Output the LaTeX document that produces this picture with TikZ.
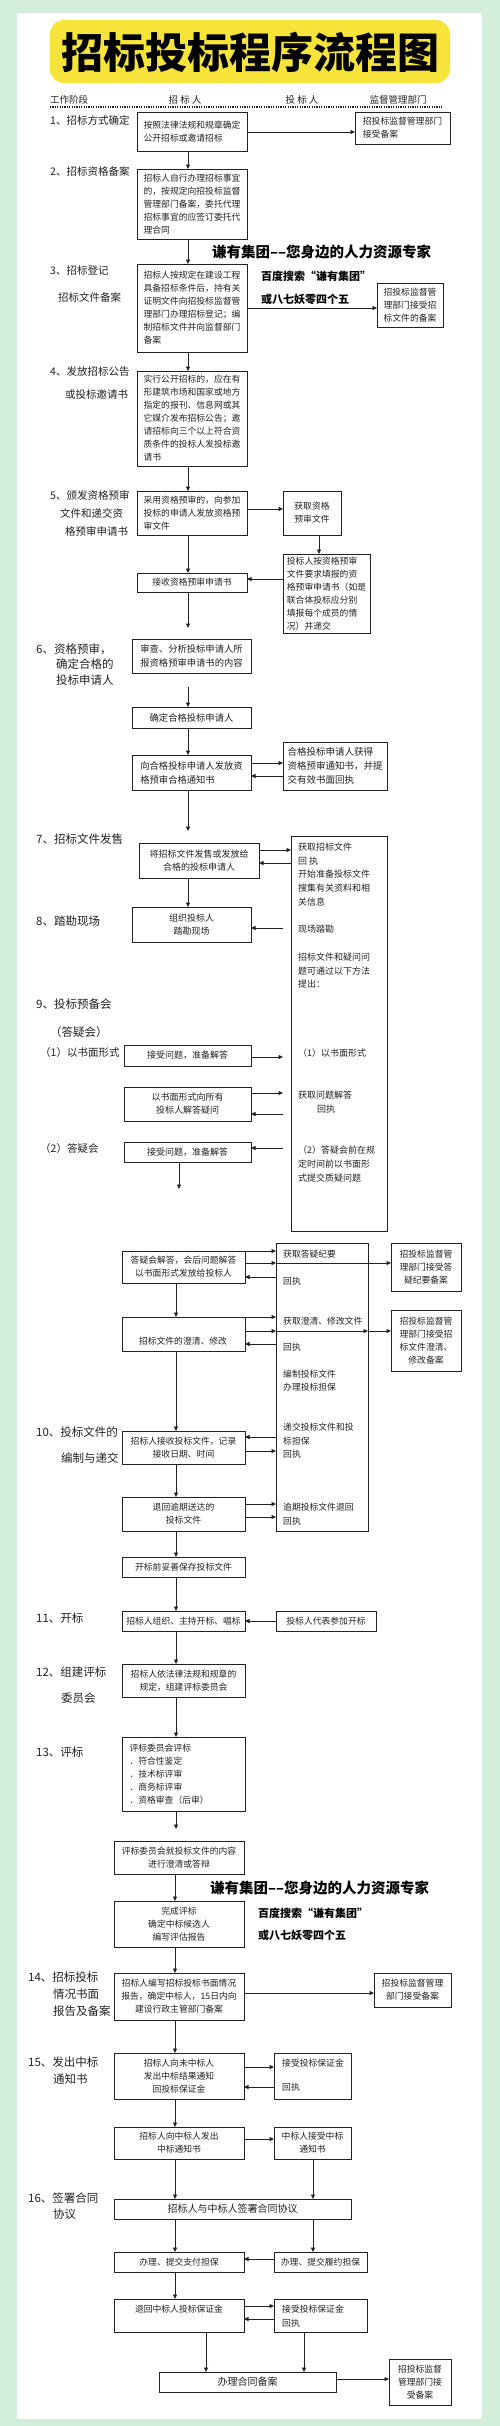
\documentclass[tikz,border=0pt]{standalone}
\usepackage{fontspec}
\setmainfont{Noto Sans CJK SC}
\usetikzlibrary{arrows.meta}
\definecolor{bggreen}{HTML}{D3EDDB}
\definecolor{ttlyellow}{HTML}{F7E43A}
\definecolor{ink}{HTML}{222222}
\newcommand{\bx}[7]{%
  \pgfmathsetmacro\bxw{#4-#2}\pgfmathsetmacro\bxh{#5-#3}%
  \node[box,anchor=north west,minimum width=\bxw pt,minimum height=\bxh pt,#6] (#1) at (#2,#3) {#7};}
\begin{document}
\begin{tikzpicture}[x=1pt,y=-1pt,
  box/.style={draw=ink,line width=0.8pt,inner sep=3pt,outer sep=0pt,text=ink,
    font=\fontsize{8.8}{13}\selectfont,align=center},
  tx/.style={inner sep=0pt,anchor=west,text=ink,font=\fontsize{8.8}{13}\selectfont},
  btx/.style={inner sep=0pt,anchor=west,text=ink,font=\fontsize{9}{13}\selectfont},
  stg/.style={inner sep=0pt,anchor=west,text=ink,font=\fontsize{10.5}{14}\selectfont},
  stgb/.style={inner sep=0pt,anchor=west,text=ink,font=\fontsize{11.5}{14}\selectfont},
  hdr/.style={inner sep=0pt,text=ink,font=\fontsize{9.5}{12}\selectfont},
  wm/.style={inner sep=0pt,anchor=west,text=black,font=\fontsize{14.5}{16}\selectfont\bfseries},
  wms/.style={inner sep=0pt,anchor=west,text=black,font=\fontsize{11}{13}\selectfont\bfseries},
  arr/.style={draw=ink,line width=0.8pt,-{Triangle[length=4.5pt,width=4pt]}},
  big/.style={font=\fontsize{10}{13}\selectfont}]
\useasboundingbox (0,0) rectangle (500,2426);
\fill[bggreen] (0,0) rectangle (500,2426);
\fill[white] (17,13) rectangle (482,2419);
\fill[ttlyellow,rounded corners=14pt] (50,20) rectangle (450,83);
\node[inner sep=0pt,font=\fontsize{42}{42}\selectfont\bfseries] (title) at (250,52) {招标投标程序流程图};
% header
\node[hdr,anchor=west] (h1) at (50,100) {工作阶段};
\node[hdr] (h2) at (185,100) {招 标 人};
\node[hdr] (h3) at (302,100) {投 标 人};
\node[hdr] (h4) at (398,100) {监督管理部门};
\draw[ink,line width=1.2pt,dash pattern=on 1.2pt off 1.2pt] (50,107) -- (443,107);
% stage labels
\node[stg] (L1) at (50,120) {1、招标方式确定};
\node[stg] (L2) at (50,171) {2、招标资格备案};
\node[stg] (L3a) at (50,271) {3、招标登记};
\node[stg] (L3b) at (58,297) {招标文件备案};
\node[stg] (L4a) at (50,372) {4、发放招标公告};
\node[stg] (L4b) at (65,395) {或投标邀请书};
\node[stg] (L5a) at (50,495) {5、颁发资格预审};
\node[stg] (L5b) at (60,513) {文件和递交资};
\node[stg] (L5c) at (65,531) {格预审申请书};
\node[stgb] (L6a) at (36,649) {6、资格预审，};
\node[stgb] (L6b) at (56,664) {确定合格的};
\node[stgb] (L6c) at (56,680) {投标申请人};
\node[stgb] (L7) at (36,839) {7、招标文件发售};
\node[stgb] (L8) at (36,921) {8、踏勘现场};
\node[stgb] (L9a) at (36,1004) {9、投标预备会};
\node[stgb] (L9b) at (50,1032) {（答疑会）};
\node[stg] (L9c) at (40,1052) {（1）以书面形式};
\node[stg] (L9d) at (40,1148) {（2）答疑会};
\node[stgb] (L10a) at (36,1432) {10、投标文件的};
\node[stgb] (L10b) at (61,1458) {编制与递交};
\node[stgb] (L11) at (36,1618) {11、开标};
\node[stgb] (L12a) at (36,1672) {12、组建评标};
\node[stgb] (L12b) at (61,1698) {委员会};
\node[stgb] (L13) at (36,1752) {13、评标};
\node[stgb] (L14a) at (28,1977) {14、招标投标};
\node[stgb] (L14b) at (53,1994) {情况书面};
\node[stgb] (L14c) at (53,2011) {报告及备案};
\node[stgb] (L15a) at (28,2062) {15、发出中标};
\node[stgb] (L15b) at (53,2079) {通知书};
\node[stgb] (L16a) at (28,2198) {16、签署合同};
\node[stgb] (L16b) at (53,2214) {协议};
% watermarks
\node[wm] (W1a) at (212,252) {谦有集团––您身边的人力资源专家};
\node[wms] (W1b) at (261,276) {百度搜索“谦有集团”};
\node[wms] (W1c) at (261,299) {或八七妖零四个五};
\node[wm] (W2a) at (210,1888) {谦有集团––您身边的人力资源专家};
\node[wms] (W2b) at (258,1913) {百度搜索“谦有集团”};
\node[wms] (W2c) at (258,1935) {或八七妖零四个五};
% boxes
\bx{A1}{137}{112}{247}{151}{align=left}{按照法律法规和规章确定\\公开招标或邀请招标}
\bx{S1}{355}{112}{450}{144}{align=left}{招投标监督管理部门\\接受备案}
\bx{A2}{137}{169}{247}{239}{align=left}{招标人自行办理招标事宜\\的，按规定向招投标监督\\管理部门备案，委托代理\\招标事宜的应签订委托代\\理合同}
\bx{A3}{137}{264}{247}{352}{align=left}{招标人按规定在建设工程\\具备招标条件后，持有关\\证明文件向招投标监督管\\理部门办理招标登记；编\\制招标文件并向监督部门\\备案}
\bx{S3}{377}{283}{443}{327}{align=left}{招投标监督管\\理部门接受招\\标文件的备案}
\bx{A4}{137}{371}{247}{466}{align=left}{实行公开招标的，应在有\\形建筑市场和国家或地方\\指定的报刊、信息网或其\\它媒介发布招标公告；邀\\请招标向三个以上符合资\\质条件的投标人发投标邀\\请书}
\bx{A5}{137}{491}{247}{535}{align=left}{采用资格预审的，向参加\\投标的申请人发放资格预\\审文件}
\bx{B5}{283}{491}{341}{535}{}{获取资格\\预审文件}
\bx{B5b}{283}{554}{370}{617}{align=left}{投标人按资格预审\\文件要求填报的资\\格预审申请书（如是\\联合体投标应分别\\填报每个成员的情\\况）并递交}
\bx{A5b}{137}{573}{247}{592}{}{接收资格预审申请书}
\bx{A6}{132}{639}{251}{673}{align=left,font=\fontsize{9.3}{14}\selectfont}{审查、分析投标申请人所\\报资格预审申请书的内容}
\bx{A6b}{132}{707}{251}{728}{font=\fontsize{9.3}{14}\selectfont}{确定合格投标申请人}
\bx{A6c}{132}{755}{251}{790}{align=left,font=\fontsize{9.3}{14}\selectfont}{向合格投标申请人发放资\\格预审合格通知书}
\bx{B6c}{283}{742}{387}{790}{align=left,font=\fontsize{9.5}{14}\selectfont}{合格投标申请人获得\\资格预审通知书，并提\\交有效书面回执}
\bx{A7}{139}{843}{259}{878}{font=\fontsize{9}{13}\selectfont}{将招标文件发售或发放给\\合格的投标申请人}
\bx{B7}{291}{836}{387}{1231}{}{}
\bx{A8}{132}{907}{251}{942}{font=\fontsize{9}{13}\selectfont}{组织投标人\\踏勘现场}
\bx{A9a}{124}{1045}{251}{1066}{font=\fontsize{9}{13}\selectfont}{接受问题，准备解答}
\bx{A9b}{124}{1087}{251}{1121}{font=\fontsize{9}{13}\selectfont}{以书面形式向所有\\投标人解答疑问}
\bx{A9c}{124}{1142}{251}{1162}{font=\fontsize{9}{13}\selectfont}{接受问题，准备解答}
\bx{A9d}{122}{1251}{245}{1283}{}{答疑会解答，会后问题解答\\以书面形式发放给投标人}
\bx{B9d}{276}{1243}{368}{1531}{}{}
\bx{S9d}{391}{1243}{461}{1291}{}{招投标监督管\\理部门接受答\\疑纪要备案}
\bx{A9e}{122}{1317}{245}{1351}{}{}
\node[tx,anchor=center] (t9e) at (183,1341) {招标文件的澄清、修改};
\bx{S9e}{391}{1310}{461}{1371}{}{招投标监督管\\理部门接受招\\标文件澄清、\\修改备案}
\bx{A10}{122}{1431}{245}{1464}{}{招标人接收投标文件，记录\\接收日期、时间}
\bx{A10b}{122}{1497}{245}{1531}{}{退回逾期送达的\\投标文件}
\bx{A10c}{122}{1557}{245}{1577}{}{开标前妥善保存投标文件}
\bx{A11}{122}{1611}{245}{1631}{}{招标人组织、主持开标、唱标}
\bx{B11}{276}{1611}{376}{1631}{}{投标人代表参加开标}
\bx{A12}{122}{1664}{245}{1697}{}{招标人依法律法规和规章的\\规定，组建评标委员会}
\bx{A13}{122}{1737}{245}{1811}{align=left,text width=108pt}{评标委员会评标\\．符合性鉴定\\．技术标评审\\．商务标评审\\．资格审查（后审）}
\bx{A13b}{114}{1841}{244}{1874}{}{评标委员会就投标文件的内容\\进行澄清或答辩}
\bx{A13c}{114}{1901}{244}{1947}{}{完成评标\\确定中标候选人\\编写评估报告}
\bx{A14}{114}{1973}{244}{2020}{}{招标人编写招标投标书面情况\\报告，确定中标人，15日内向\\建设行政主管部门备案}
\bx{S14}{374}{1973}{451}{2007}{}{招投标监督管理\\部门接受备案}
\bx{A15}{114}{2053}{244}{2099}{}{招标人向未中标人\\发出中标结果通知\\回投标保证金}
\bx{B15}{274}{2053}{351}{2099}{}{}
\node[tx] (t15a) at (282,2063) {接受投标保证金};
\node[tx] (t15b) at (282,2087) {回执};
\bx{A15b}{114}{2127}{244}{2159}{}{招标人向中标人发出\\中标通知书}
\bx{B15b}{274}{2127}{351}{2159}{}{中标人接受中标\\通知书}
\bx{A16}{114}{2199}{351}{2219}{big}{招标人与中标人签署合同协议}
\bx{A16a}{114}{2252}{244}{2272}{}{办理、提交支付担保}
\bx{B16a}{274}{2252}{367}{2272}{}{办理、提交履约担保}
\bx{A16b}{114}{2299}{244}{2332}{}{}
\node[tx,anchor=center] (t16b) at (179,2309) {退回中标人投标保证金};
\bx{B16b}{274}{2299}{367}{2332}{}{}
\node[tx] (t16c) at (282,2309) {接受投标保证金};
\node[tx] (t16d) at (282,2323) {回执};
\bx{A17}{159}{2372}{336}{2392}{big}{办理合同备案}
\bx{S17}{389}{2359}{451}{2405}{}{招投标监督\\管理部门接\\受备案}
% texts in big bidder box B7
\foreach \yy/\tt [count=\i] in {847/获取招标文件, 861/回 执, 874/开始准备投标文件, 888/搜集有关资料和相, 902/关信息, 929/现场踏勘, 957/招标文件和疑问问, 971/题可通过以下方法, 984/提出：, 1053/（1）以书面形式, 1095/获取问题解答, 1150/（2）答疑会前在规, 1164/定时间前以书面形, 1178/式提交质疑问题}
  \node[btx] (b7t\i) at (298,\yy) {\tt};
\node[btx] (b7r) at (317,1109) {回执};
% texts in big bidder box B9d
\foreach \yy/\tt [count=\i] in {1254/获取答疑纪要, 1281/回执, 1321/获取澄清、修改文件, 1347/回执, 1374/编制投标文件, 1387/办理投标担保, 1427/递交投标文件和投, 1441/标担保, 1454/回执, 1507/逾期投标文件退回, 1521/回执}
  \node[tx] (b9t\i) at (283,\yy) {\tt};
% vertical connectors
\draw[arr] (A1.south -| 188,0) -- (A2.north -| 188,0);
\draw[arr] (A2.south -| 188,0) -- (A3.north -| 188,0);
\draw[arr] (A3.south -| 188,0) -- (A4.north -| 188,0);
\draw[arr] (A4.south -| 188,0) -- (A5.north -| 188,0);
\draw[arr] (A5.south -| 188,0) -- (A5b.north -| 188,0);
\draw[arr] (B5.south -| 319,0) -- (B5b.north -| 319,0);
\draw[arr,shorten >=11pt] (A5b.south -| 188,0) -- (A6.north -| 188,0);
\draw[arr,shorten <=14pt] (A6.south -| 188,0) -- (A6b.north -| 188,0);
\draw[arr] (A6b.south -| 188,0) -- (A6c.north -| 188,0);
\draw[arr,shorten >=12pt] (A6c.south -| 188,0) -- (A7.north -| 188,0);
\draw[arr] (A7.south -| 188,0) -- (A8.north -| 188,0);
\coordinate (e9) at (179,1189);
\draw[arr] (A9c.south -| 179,0) -- (e9);
\draw[arr] (A9d.south -| 176,0) -- (A9e.north -| 176,0);
\draw[arr] (A9e.south -| 176,0) -- (A10.north -| 176,0);
\draw[arr] (A10.south -| 176,0) -- (A10b.north -| 176,0);
\draw[arr] (A10b.south -| 176,0) -- (A10c.north -| 176,0);
\draw[arr] (A10c.south -| 176,0) -- (A11.north -| 176,0);
\draw[arr] (A11.south -| 176,0) -- (A12.north -| 176,0);
\draw[arr] (A12.south -| 176,0) -- (A13.north -| 176,0);
\draw[arr,shorten >=12pt] (A13.south -| 176,0) -- (A13b.north -| 176,0);
\draw[arr] (A13b.south -| 175,0) -- (A13c.north -| 175,0);
\draw[arr] (A13c.south -| 175,0) -- (A14.north -| 175,0);
\draw[arr] (A14.south -| 175,0) -- (A15.north -| 175,0);
\draw[arr] (A15.south -| 175,0) -- (A15b.north -| 175,0);
\draw[arr] (A15b.south -| 175,0) -- (A16.north -| 175,0);
\draw[arr] (B15b.south -| 313,0) -- (A16.north -| 313,0);
\draw[arr] (A16.south -| 175,0) -- (A16a.north -| 175,0);
\draw[arr] (A16.south -| 313,0) -- (B16a.north -| 313,0);
\draw[arr] (A16a.south -| 175,0) -- (A16b.north -| 175,0);
\draw[arr] (A16b.south -| 206,0) -- (A17.north -| 206,0);
\draw[arr] (B16b.south -| 304,0) -- (A17.north -| 304,0);
% horizontal connectors
\draw[arr] (A1.east |- 0,132) -- (S1.west |- 0,132);
\draw[arr] (A3.east |- 0,308) -- (S3.west |- 0,308);
\draw[arr] (A5.east |- 0,509) -- (B5.west |- 0,509);
\draw[arr] (B5b.west |- 0,579) -- (A5b.east |- 0,579);
\draw[arr] (A6c.east |- 0,763) -- (B6c.west |- 0,763);
\draw[arr] (B6c.west |- 0,776) -- (A6c.east |- 0,776);
\draw[arr] (A7.east |- 0,850) -- (B7.west |- 0,850);
\draw[arr] (B7.west |- 0,863) -- (A7.east |- 0,863);
\draw[arr,shorten <=8pt] (B7.west |- 0,928) -- (A8.east |- 0,928);
\draw[arr,shorten >=8pt] (A9a.east |- 0,1057) -- (B7.west |- 0,1057);
\draw[arr,shorten >=8pt] (A9b.east |- 0,1093) -- (B7.west |- 0,1093);
\draw[arr,shorten <=8pt] (B7.west |- 0,1114) -- (A9b.east |- 0,1114);
\draw[arr,shorten <=8pt] (B7.west |- 0,1148) -- (A9c.east |- 0,1148);
\draw[arr] (A9d.east |- 0,1251) -- (B9d.west |- 0,1251);
\draw[arr] (A9d.east |- 0,1263) -- (B9d.west |- 0,1263);
\draw[arr] (B9d.west |- 0,1263) -- (S9d.west |- 0,1263);
\draw[arr] (B9d.west |- 0,1277) -- (A9d.east |- 0,1277);
\draw[arr] (A9e.east |- 0,1317) -- (B9d.west |- 0,1317);
\draw[arr] (A9e.east |- 0,1331) -- (B9d.west |- 0,1331);
\draw[arr] (B9d.west |- 0,1331) -- (B9d.east |- 0,1331);
\draw[arr] (B9d.east |- 0,1331) -- (S9e.west |- 0,1331);
\draw[arr] (B9d.west |- 0,1344) -- (A9e.east |- 0,1344);
\draw[arr] (B9d.west |- 0,1437) -- (A10.east |- 0,1437);
\draw[arr] (A10.east |- 0,1451) -- (B9d.west |- 0,1451);
\draw[arr] (A10b.east |- 0,1504) -- (B9d.west |- 0,1504);
\draw[arr] (A10b.east |- 0,1517) -- (B9d.west |- 0,1517);
\draw[arr] (B11.west |- 0,1621) -- (A11.east |- 0,1621);
\draw[arr] (A14.east |- 0,1993) -- (S14.west |- 0,1993);
\draw[arr] (A15.east |- 0,2067) -- (B15.west |- 0,2067);
\draw[arr] (B15.west |- 0,2087) -- (A15.east |- 0,2087);
\draw[arr] (A15b.east |- 0,2139) -- (B15b.west |- 0,2139);
\draw[arr] (B16a.west |- 0,2259) -- (A16a.east |- 0,2259);
\draw[arr] (A16b.east |- 0,2306) -- (B16b.west |- 0,2306);
\draw[arr] (B16b.west |- 0,2319) -- (A16b.east |- 0,2319);
\draw[arr] (A17.east |- 0,2379) -- (S17.west |- 0,2379);
\end{tikzpicture}
\end{document}
